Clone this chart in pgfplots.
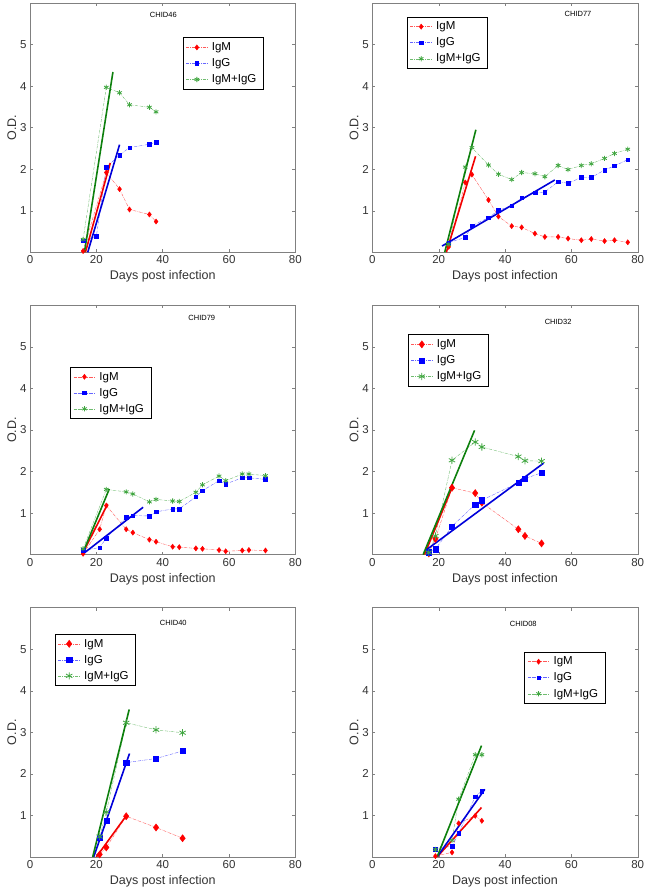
\documentclass[border=0pt]{standalone}
\usepackage{fontspec}
\setmainfont{Liberation Sans}
\usepackage{pgfplots}
\pgfplotsset{compat=1.18}
\usepgfplotslibrary{groupplots}
\usetikzlibrary{calc}

\definecolor{mgreen}{rgb}{0.25,0.65,0.25}
\definecolor{fgreen}{rgb}{0.05,0.5,0.05}
\definecolor{fred}{rgb}{0.95,0,0}
\definecolor{fblue}{rgb}{0,0,0.85}

\pgfplotsset{
  igm/.style={red!65, densely dashdotted, line width=0.4pt, mark=diamond*, mark size=2.6pt, mark options={solid, draw=red, fill=red}},
  igg/.style={blue!60, densely dashdotted, line width=0.4pt, mark=square*, mark size=1.8pt, mark options={solid, draw=blue, fill=blue}},
  igmg/.style={mgreen!75, densely dashdotted, line width=0.4pt, mark=asterisk, mark size=2.6pt, mark options={solid, draw=mgreen, line width=0.8pt}},
  big/.style={mark size=3.6pt},
  bigsq/.style={mark size=2.6pt},
  fitm/.style={fred, line width=1.6pt, forget plot},
  fitg/.style={fblue, line width=1.6pt, forget plot},
  fitmg/.style={fgreen, line width=1.6pt, forget plot},
}
\tikzset{chid/.style={font=\fontsize{7.5}{9}\selectfont, anchor=center}}

\begin{document}
\begin{tikzpicture}
\begin{groupplot}[
  group style={group size=2 by 3, horizontal sep=77pt, vertical sep=53pt},
  scale only axis, width=265pt, height=249pt,
  xmin=0, xmax=80, ymin=0, ymax=6,
  xtick={0,20,40,60,80}, ytick={1,2,3,4,5},
  tick align=inside, major tick length=3pt,
  axis line style={gray}, every tick/.style={gray},
  tick label style={font=\fontsize{11.5}{13}\selectfont, text=black!80},
  /pgf/number format/assume math mode=true,
  label style={font=\fontsize{12.5}{14}\selectfont, text=black!80},
  xlabel={Days post infection}, ylabel={O.D.},
  ylabel style={yshift=-3pt},
  legend style={font=\fontsize{11.5}{13}\selectfont, draw=black, line width=0.5pt,
    inner xsep=3pt, inner ysep=3pt, row sep=2.5pt, nodes={inner xsep=4pt}},
  legend cell align=left,
  legend image code/.code={\draw[mark repeat=2, mark phase=2] plot coordinates {(0cm,0cm) (0.38cm,0cm) (0.76cm,0cm)};},
  clip=true,
]
% ---------------- CHID46
\nextgroupplot[legend style={at={(axis cs:46,5.17)}, anchor=north west}]
\addplot[igm] coordinates {(16,0.03) (23,1.92) (27,1.52) (30,1.03) (36,0.91) (38,0.74)};
\addlegendentry{IgM}
\addplot[igg] coordinates {(16,0.28) (20,0.38) (23,2.05) (27,2.34) (30,2.52) (36,2.6) (38,2.65)};
\addlegendentry{IgG}
\addplot[igmg] coordinates {(16,0.31) (23,3.97) (27,3.84) (30,3.55) (36,3.49) (38,3.38)};
\addlegendentry{IgM+IgG}
\addplot[fitm] coordinates {(16.7,0) (24.2,2.15)};
\addplot[fitg] coordinates {(17.4,0) (27,2.59)};
\addplot[fitmg] coordinates {(16.4,0) (25,4.34)};
\node[chid] at (axis cs:40.2,5.71) {CHID46};
% ---------------- CHID77
\nextgroupplot[legend style={at={(axis cs:10.4,5.67)}, anchor=north west}]
\addplot[igm] coordinates {(23,0.13) (28,1.68) (30,1.87) (35,1.26) (38,0.86) (42,0.63) (45,0.6) (49,0.45) (52,0.37) (56,0.37) (59,0.33) (63,0.29) (66,0.32) (70,0.27) (73,0.29) (77,0.24)};
\addlegendentry{IgM}
\addplot[igg] coordinates {(23,0.23) (28,0.36) (30,0.64) (35,0.83) (38,1.01) (42,1.12) (45,1.31) (49,1.43) (52,1.45) (56,1.7) (59,1.66) (63,1.8) (66,1.8) (70,1.98) (73,2.08) (77,2.23)};
\addlegendentry{IgG}
\addplot[igmg] coordinates {(23,0.19) (28,2.05) (30,2.52) (35,2.1) (38,1.88) (42,1.75) (45,1.92) (49,1.89) (52,1.82) (56,2.09) (59,1.99) (63,2.09) (66,2.13) (70,2.26) (73,2.38) (77,2.48)};
\addlegendentry{IgM+IgG}
\addplot[fitm] coordinates {(22.3,0) (31.1,2.31)};
\addplot[fitg] coordinates {(21,0.15) (55,1.74)};
\addplot[fitmg] coordinates {(21.8,0) (31.2,2.95)};
\node[chid] at (axis cs:62,5.73) {CHID77};
% ---------------- CHID79
\nextgroupplot[legend style={at={(axis cs:12.1,4.52)}, anchor=north west}]
\addplot[igm] coordinates {(16,0.02) (21,0.61) (23,1.18) (29,0.61) (31,0.53) (36,0.36) (38,0.31) (43,0.19) (45,0.18) (50,0.15) (52,0.14) (57,0.11) (59,0.08) (64,0.1) (66,0.11) (71,0.1)};
\addlegendentry{IgM}
\addplot[igg] coordinates {(16,0.1) (21,0.17) (23,0.4) (29,0.9) (31,0.94) (36,0.93) (38,1.03) (43,1.1) (45,1.1) (50,1.39) (52,1.54) (57,1.78) (59,1.7) (64,1.85) (66,1.85) (71,1.81)};
\addlegendentry{IgG}
\addplot[igmg] coordinates {(16,0.14) (23,1.57) (29,1.51) (31,1.46) (36,1.27) (38,1.33) (43,1.29) (45,1.28) (50,1.5) (52,1.68) (57,1.89) (59,1.78) (64,1.94) (66,1.94) (71,1.9)};
\addlegendentry{IgM+IgG}
\addplot[fitm] coordinates {(15.7,0) (23.4,1.22)};
\addplot[fitg] coordinates {(15.7,0) (34.1,1.14)};
\addplot[fitmg] coordinates {(15.7,0) (23.9,1.58)};
\node[chid] at (axis cs:51.8,5.7) {CHID79};
% ---------------- CHID32
\nextgroupplot[legend style={at={(axis cs:10.6,5.3)}, anchor=north west}]
\addplot[igm, big] coordinates {(17,0.03) (19,0.38) (24,1.61) (31,1.48) (33,1.25) (44,0.61) (46,0.45) (51,0.27)};
\addlegendentry{IgM}
\addplot[igg, bigsq] coordinates {(17,0.06) (19,0.13) (24,0.68) (31,1.21) (33,1.31) (44,1.73) (46,1.83) (51,1.97)};
\addlegendentry{IgG}
\addplot[igmg, big] coordinates {(17,0.05) (19,0.45) (24,2.27) (31,2.71) (33,2.59) (44,2.36) (46,2.26) (51,2.25)};
\addlegendentry{IgM+IgG}
\addplot[fitm] coordinates {(15.7,0) (24.2,1.65)};
\addplot[fitg] coordinates {(16,0.1) (51.6,2.2)};
\addplot[fitmg] coordinates {(15.3,0) (30.8,2.99)};
\node[chid] at (axis cs:56,5.61) {CHID32};
% ---------------- CHID40
\nextgroupplot[legend style={at={(axis cs:7.5,5.37)}, anchor=north west}]
\addplot[igm, big] coordinates {(21,0.06) (23,0.23) (29,0.98) (38,0.71) (46,0.45)};
\addlegendentry{IgM}
\addplot[igg, bigsq] coordinates {(21,0.46) (23,0.88) (29,2.27) (38,2.37) (46,2.55)};
\addlegendentry{IgG}
\addplot[igmg, big] coordinates {(21,0.49) (23,1.08) (29,3.23) (38,3.06) (46,2.99)};
\addlegendentry{IgM+IgG}
\addplot[fitm] coordinates {(20,0) (29,0.99)};
\addplot[fitg] coordinates {(19.2,0) (30,2.49)};
\addplot[fitmg] coordinates {(18.9,0) (29.9,3.55)};
\node[chid] at (axis cs:43.2,5.63) {CHID40};
% ---------------- CHID08
\nextgroupplot[legend style={at={(axis cs:45.8,4.94)}, anchor=north west}]
\addplot[igm] coordinates {(19,0.02) (24,0.11) (26,0.81) (31,0.99) (33,0.87)};
\addlegendentry{IgM}
\addplot[igg] coordinates {(19,0.19) (24,0.26) (26,0.57) (31,1.45) (33,1.59)};
\addlegendentry{IgG}
\addplot[igmg] coordinates {(19,0.18) (24,0.4) (26,1.39) (31,2.46) (33,2.46)};
\addlegendentry{IgM+IgG}
\addplot[fitm] coordinates {(19.5,0) (32.9,1.19)};
\addplot[fitg] coordinates {(19.5,0) (33.9,1.63)};
\addplot[fitmg] coordinates {(19.5,0) (32.9,2.68)};
\node[chid] at (axis cs:45.5,5.6) {CHID08};
\end{groupplot}
\pgfresetboundingbox
\path[use as bounding box] ($(group c1r1.north west)+(-30pt,3pt)$) rectangle ($(group c2r3.south east)+(11pt,-35pt)$);
\end{tikzpicture}
\end{document}
